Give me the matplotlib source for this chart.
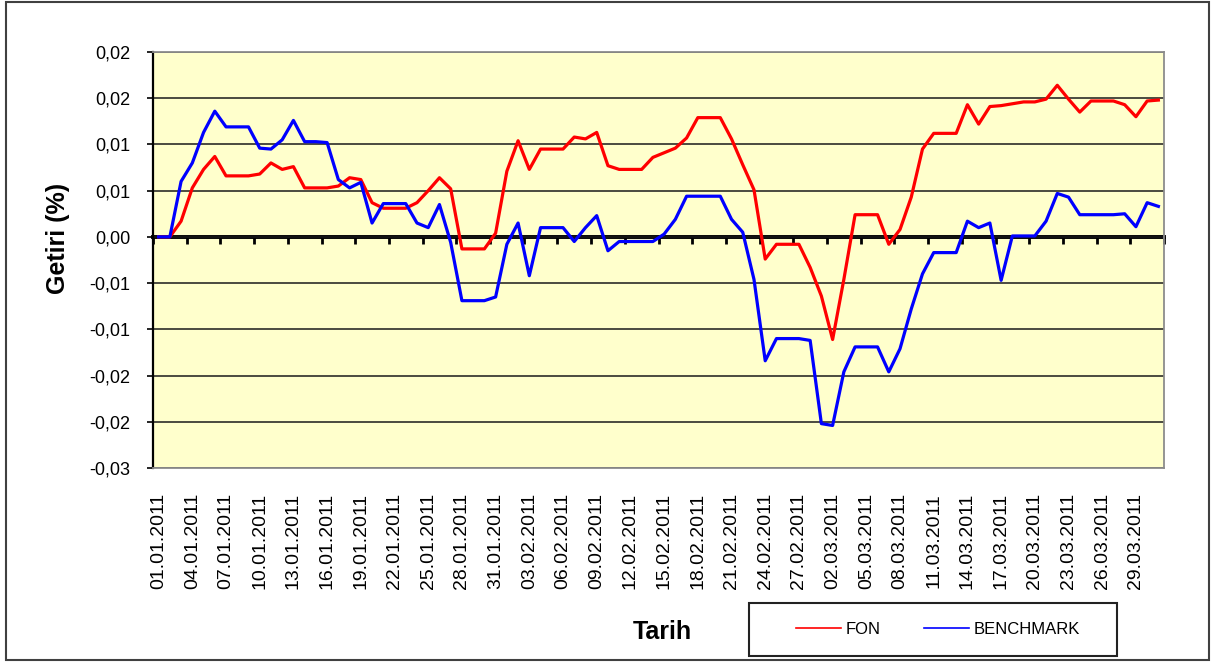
import numpy as np
import pandas as pd
import matplotlib
matplotlib.use("Agg")
import matplotlib.pyplot as plt
from matplotlib.patches import Rectangle
from matplotlib.lines import Line2D

plt.rcParams['font.family'] = ['Liberation Sans', 'DejaVu Sans']

# daily dates, 01.01.2011 - 31.03.2011
dates = pd.date_range("2011-01-01", "2011-03-31", freq="D")

# cumulative returns, in thousandths
fon = [0.0, 0.0, 1.7, 5.3, 7.3, 8.7, 6.6, 6.6, 6.6, 6.8,
       8.0, 7.3, 7.6, 5.3, 5.3, 5.3, 5.5, 6.4, 6.2, 3.7,
       3.1, 3.1, 3.1, 3.7, 5.0, 6.4, 5.2, -1.3, -1.3, -1.3,
       0.4, 7.1, 10.4, 7.3, 9.5, 9.5, 9.5, 10.8, 10.6, 11.3,
       7.7, 7.3, 7.3, 7.3, 8.6, 9.1, 9.6, 10.7, 12.9, 12.9,
       12.9, 10.6, 7.8, 5.1, -2.4, -0.8, -0.8, -0.8, -3.3, -6.4,
       -11.1, -4.6, 2.4, 2.4, 2.4, -0.8, 0.8, 4.3, 9.5, 11.2,
       11.2, 11.2, 14.3, 12.2, 14.1, 14.2, 14.4, 14.6, 14.6, 14.9,
       16.4, 14.9, 13.5, 14.7, 14.7, 14.7, 14.3, 13.0, 14.7, 14.8]

benchmark = [0.0, 0.0, 6.0, 8.0, 11.3, 13.6, 11.9, 11.9, 11.9, 9.6,
             9.5, 10.5, 12.6, 10.3, 10.3, 10.2, 6.2, 5.3, 5.9, 1.5,
             3.6, 3.6, 3.6, 1.5, 1.0, 3.5, -0.6, -6.9, -6.9, -6.9,
             -6.5, -0.8, 1.5, -4.2, 1.0, 1.0, 1.0, -0.5, 1.0, 2.3,
             -1.5, -0.5, -0.5, -0.5, -0.5, 0.3, 1.9, 4.4, 4.4, 4.4,
             4.4, 1.9, 0.5, -4.6, -13.4, -11.0, -11.0, -11.0, -11.2, -20.2,
             -20.4, -14.6, -11.9, -11.9, -11.9, -14.6, -12.1, -7.8, -4.0, -1.7,
             -1.7, -1.7, 1.7, 1.0, 1.5, -4.7, 0.1, 0.1, 0.1, 1.7,
             4.7, 4.3, 2.4, 2.4, 2.4, 2.4, 2.5, 1.1, 3.7, 3.3]

y_ticks = [0.02, 0.015, 0.01, 0.005, 0.0, -0.005, -0.01, -0.015, -0.02, -0.025]
y_tick_labels = ["0,02", "0,02", "0,01", "0,01", "0,00",
                 "-0,01", "-0,01", "-0,02", "-0,02", "-0,03"]

W, H = 1211, 662
fig = plt.figure(figsize=(W / 100, H / 100), dpi=100)
ax = fig.add_axes([153 / W, 1 - 468 / H, (1164 - 153) / W, (468 - 52) / H])
ax.set_facecolor("#FFFFCC")

x = np.arange(len(dates))
ax.plot(x, np.array(fon) / 1000, color="#FF0000", lw=2.3, zorder=3)
ax.plot(x, np.array(benchmark) / 1000, color="#0000FF", lw=2.3, zorder=3)

ax.set_xlim(-0.5, len(dates) - 0.5)
ax.set_ylim(-0.025, 0.02)

ax.set_yticks(y_ticks)
ax.set_yticklabels(y_tick_labels)
ax.tick_params(axis="y", direction="out", length=4.5, width=1.2, pad=12,
               labelsize=13, color="black")
ax.yaxis.grid(True, color="#1a1a1a", lw=1.1)
ax.set_axisbelow(True)

ax.set_xticks(x[::3])
ax.set_xticklabels([d.strftime("%d.%m.%Y") for d in dates[::3]], rotation=90,
                   va="top", ha="center")
ax.tick_params(axis="x", length=0, pad=18, labelsize=14)

for side in ["top", "right", "bottom"]:
    ax.spines[side].set_color("#8c8c8c")
    ax.spines[side].set_linewidth(1.3)
ax.spines["left"].set_color("black")
ax.spines["left"].set_linewidth(1.6)

# category axis crossing at zero
zero_pos = (0 - (-0.025)) / (0.02 - (-0.025))
sec = ax.secondary_xaxis(zero_pos)
sec.set_xticks(np.arange(-0.5, len(dates), 3))
sec.tick_params(direction="in", length=5, width=2, color="black",
                labeltop=False, labelbottom=False)
for s in sec.spines.values():
    s.set_linewidth(2.8)
    s.set_color("black")

fig.text(58 / W, 1 - 238 / H, "Getiri (%)", rotation=90, ha="center",
         va="center", fontsize=18, fontweight="bold")
fig.text(662 / W, 1 - 632 / H, "Tarih", ha="center", va="center",
         fontsize=18, fontweight="bold")

handles = [Line2D([], [], color="#FF0000", lw=1.2),
           Line2D([], [], color="#0000FF", lw=1.2)]
fig.legend(handles, ["FON", "BENCHMARK"], loc="center",
           bbox_to_anchor=(938 / W, 1 - 629 / H), ncol=2, frameon=False,
           fontsize=12, handlelength=2.7, handletextpad=0.3, columnspacing=2.6)
fig.add_artist(Rectangle((749 / W, 1 - 656 / H), (1117 - 749) / W, 53 / H,
                         transform=fig.transFigure, fill=False,
                         edgecolor="#222222", lw=1.5))

# outer chart frame
fig.add_artist(Rectangle((6 / W, 2 / H), (1209 - 6) / W, (660 - 2) / H,
                         transform=fig.transFigure, fill=False,
                         edgecolor="#404040", lw=1.5))

fig.savefig("out.png", dpi=100)
